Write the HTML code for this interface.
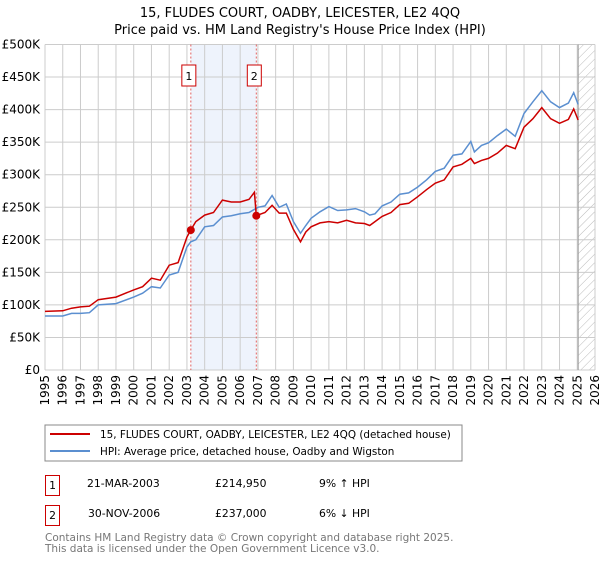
<!DOCTYPE html>
<html><head><meta charset="utf-8"><style>
body{margin:0;background:#fff;font-family:"Liberation Sans","DejaVu Sans",sans-serif;}
svg text{font-family:"DejaVu Sans","Liberation Sans",sans-serif;}
</style></head><body>
<svg width="600" height="560" viewBox="0 0 600 560" id="c">
<defs><pattern id="hatch" width="6" height="6" patternUnits="userSpaceOnUse" patternTransform="rotate(45)"><line x1="0" y1="0" x2="0" y2="6" stroke="#bbb" stroke-width="1"/></pattern></defs>
<text x="300" y="17" text-anchor="middle" font-size="13">15, FLUDES COURT, OADBY, LEICESTER, LE2 4QQ</text>
<text x="300" y="34" text-anchor="middle" font-size="13">Price paid vs. HM Land Registry's House Price Index (HPI)</text>
<g id="grid"></g><g id="marks"></g>
<rect x="45" y="425" width="417" height="36" fill="#fff" stroke="#888"/>
<line x1="50" y1="434" x2="90" y2="434" stroke="#cc0000" stroke-width="2"/>
<text x="100" y="438" font-size="10.4">15, FLUDES COURT, OADBY, LEICESTER, LE2 4QQ (detached house)</text>
<line x1="50" y1="451" x2="90" y2="451" stroke="#5b8fd0" stroke-width="2"/>
<text x="100" y="455" font-size="10.4">HPI: Average price, detached house, Oadby and Wigston</text>
<g font-size="10.8">
<rect x="45.5" y="475.5" width="14" height="20" fill="none" stroke="#cc0000"/><text x="52.5" y="489" text-anchor="middle">1</text>
<text x="87" y="487">21-MAR-2003</text><text x="215" y="487">£214,950</text><text x="319" y="487">9% ↑ HPI</text>
<rect x="45.5" y="505.5" width="14" height="20" fill="none" stroke="#cc0000"/><text x="52.5" y="519" text-anchor="middle">2</text>
<text x="88" y="517">30-NOV-2006</text><text x="215" y="517">£237,000</text><text x="319" y="517">6% ↓ HPI</text>
</g>
<text x="45" y="541" font-size="10.5" fill="#777">Contains HM Land Registry data © Crown copyright and database right 2025.</text>
<text x="45" y="552" font-size="10.5" fill="#777">This data is licensed under the Open Government Licence v3.0.</text>
</svg>
<script>
const yTicks=[0,50,100,150,200,250,300,350,400,450,500];
const yLabels=["£0","£50K","£100K","£150K","£200K","£250K","£300K","£350K","£400K","£450K","£500K"];
const xYears=[1995,1996,1997,1998,1999,2000,2001,2002,2003,2004,2005,2006,2007,2008,2009,2010,2011,2012,2013,2014,2015,2016,2017,2018,2019,2020,2021,2022,2023,2024,2025,2026];
const hpiDates=[1995,1996,1996.5,1997,1997.5,1998,1999,2000,2000.5,2001,2001.5,2002,2002.5,2003,2003.22,2003.5,2004,2004.5,2005,2005.5,2006,2006.5,2007,2007.4,2007.8,2008.2,2008.6,2009,2009.4,2009.7,2010,2010.5,2011,2011.5,2012,2012.5,2013,2013.3,2013.6,2014,2014.5,2015,2015.5,2016,2016.5,2017,2017.5,2018,2018.5,2019,2019.2,2019.6,2020,2020.5,2021,2021.5,2022,2022.5,2023,2023.5,2024,2024.5,2024.8,2025.05];
const hpiValues=[83,83,87,87,88,100,102,112,118,128,126,146,150,189,197,200,220,222,235,237,240,242,250,252,268,250,255,228,210,222,233,243,251,245,246,248,243,238,240,252,258,270,272,281,292,305,310,330,332,351,335,345,349,360,370,359,394,412,429,412,403,410,426,408];
const priceDates=[1995,1996,1996.5,1997,1997.5,1998,1999,2000,2000.5,2001,2001.5,2002,2002.5,2003,2003.22,2003.5,2004,2004.5,2005,2005.5,2006,2006.5,2006.8,2006.91,2007,2007.4,2007.8,2008.2,2008.6,2009,2009.4,2009.7,2010,2010.5,2011,2011.5,2012,2012.5,2013,2013.3,2013.6,2014,2014.5,2015,2015.5,2016,2016.5,2017,2017.5,2018,2018.5,2019,2019.2,2019.6,2020,2020.5,2021,2021.5,2022,2022.5,2023,2023.5,2024,2024.5,2024.8,2025.05];
const priceValues=[90,91,95,97,98,108,112,123,128,141,138,161,165,204,215,228,238,242,261,258,258,262,273,237,238,242,253,241,241,216,197,212,220,226,228,226,230,226,225,222,228,236,242,254,256,266,277,287,292,312,316,325,317,322,325,333,345,340,373,386,403,386,379,385,401,384];
const saleDates=[2003.22,2006.91];
const saleValues=[214.95,237];
const saleLabels=["1","2"];
const x0=45,x1=595,y0=370,y1=44.5;
const X=t=>x0+(t-1995)*(x1-x0)/31;
const Y=v=>y0-v*(y0-y1)/500;
const NS="http://www.w3.org/2000/svg";
function mk(tag,attrs,parent){const e=document.createElementNS(NS,tag);for(const k in attrs)e.setAttribute(k,attrs[k]);parent.appendChild(e);return e;}
const g=document.getElementById('grid'),m=document.getElementById('marks');
let sh=mk('rect',{x:X(saleDates[0]),y:y1,width:X(saleDates[1])-X(saleDates[0]),height:y0-y1,fill:'#eef3fc'},g);


let ht=mk('rect',{x:X(2025.05),y:y1,width:x1-X(2025.05),height:y0-y1,fill:'url(#hatch)'},g);


yTicks.forEach((v,i)=>{
 let l=mk('line',{x1:x0,x2:x1,y1:Y(v),y2:Y(v),stroke:'#cccccc'},g);
 
 
 let t=mk('text',{x:40,y:Y(v)+4,'text-anchor':'end','font-size':'12'},g);t.textContent=yLabels[i];
 
 
});
xYears.forEach(yr=>{
 let l=mk('line',{x1:X(yr),x2:X(yr),y1:y1,y2:y0,stroke:'#cccccc'},g);
 
 
 let t=mk('text',{x:0,y:0,'text-anchor':'end','font-size':'12',transform:`translate(${X(yr)+4},375) rotate(-90)`},g);t.textContent=yr;
 
 
});
let vl=mk('line',{x1:X(2025.05),x2:X(2025.05),y1:y1,y2:y0,stroke:'#999'},g);


saleDates.forEach((d,i)=>{
 let l=mk('line',{x1:X(d),x2:X(d),y1:y1,y2:y0,stroke:'#e06060','stroke-dasharray':'2,2'},m);
 
 
});
const pts=(ds,vs)=>ds.map((d,i)=>X(d).toFixed(1)+','+Y(vs[i]).toFixed(1)).join(' ');
let hp=mk('polyline',{points:pts(hpiDates,hpiValues),fill:'none',stroke:'#5b8fd0','stroke-width':'1.5'},m);


let pp=mk('polyline',{points:pts(priceDates,priceValues),fill:'none',stroke:'#cc0000','stroke-width':'1.5'},m);


saleDates.forEach((d,i)=>{
 let c=mk('circle',{cx:X(d),cy:Y(saleValues[i]),r:4,fill:'#cc0000'},m);
 
 
 let b=mk('rect',{x:X(d)-9,y:65,width:14,height:21,fill:'#fff',stroke:'#cc0000'},m);
 
 
 let t=mk('text',{x:X(d)-2,y:80,'text-anchor':'middle','font-size':'11'},m);t.textContent=saleLabels[i];
 
 
});
</script>
</body></html>
